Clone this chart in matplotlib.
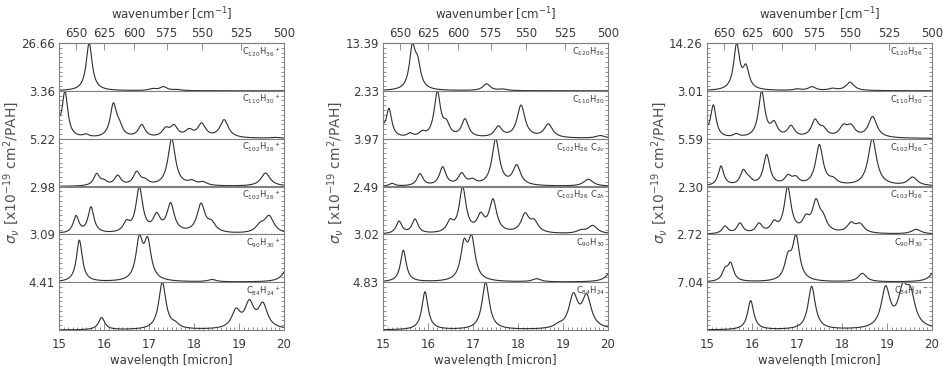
import numpy as np
import matplotlib
matplotlib.use("Agg")
import matplotlib.pyplot as plt
from matplotlib.ticker import MultipleLocator, FixedLocator

plt.rcParams['font.family'] = ['DejaVu Sans']
plt.rcParams['mathtext.fontset'] = 'dejavusans'

# ---------------- data (band positions in micron, relative band strengths) -------------
# Panel 1: cations
cat_labels = [r'C$_{120}$H$_{36}$$^+$', r'C$_{110}$H$_{30}$$^+$', r'C$_{102}$H$_{26}$$^+$',
              r'C$_{102}$H$_{26}$$^+$', r'C$_{90}$H$_{30}$$^+$', r'C$_{84}$H$_{24}$$^+$']
cat_max = ['26.66', '3.36', '5.22', '2.98', '3.09', '4.41']
cat1_pos = [15.67, 17.08, 17.32, 17.62]
cat1_amp = [1.0, 0.035, 0.08, 0.02]
cat2_pos = [14.95, 15.133, 15.6, 16.207, 16.34, 16.837, 17.37, 17.556, 17.89, 18.17, 18.67, 19.8]
cat2_amp = [0.4, 1.0, 0.06, 0.72, 0.2, 0.28, 0.18, 0.24, 0.15, 0.3, 0.4, 0.02]
cat3_pos = [15.837, 16.0, 16.304, 16.726, 16.91, 17.504, 17.95, 18.2, 19.59]
cat3_amp = [0.25, 0.08, 0.21, 0.28, 0.09, 1.0, 0.08, 0.07, 0.28]
cat4_pos = [14.9, 15.378, 15.711, 16.5, 16.785, 17.17, 17.48, 18.156, 18.39, 19.47, 19.67]
cat4_amp = [0.06, 0.36, 0.55, 0.2, 0.95, 0.34, 0.6, 0.6, 0.18, 0.15, 0.35]
cat5_pos = [15.452, 16.785, 16.97, 18.4, 20.1]
cat5_amp = [0.92, 0.88, 0.82, 0.05, 0.35]
cat6_pos = [15.948, 17.296, 17.58, 18.933, 19.23, 19.53]
cat6_amp = [0.26, 1.0, 0.08, 0.37, 0.52, 0.5]

# Panel 2: neutrals
neu_labels = [r'C$_{120}$H$_{36}$', r'C$_{110}$H$_{30}$', r'C$_{102}$H$_{26}$ C$_{2v}$',
              r'C$_{102}$H$_{26}$ C$_{2h}$', r'C$_{90}$H$_{30}$', r'C$_{84}$H$_{24}$']
neu_max = ['13.39', '2.33', '3.97', '2.49', '3.02', '4.83']
neu1_pos = [15.652, 15.77, 17.30, 17.66]
neu1_amp = [0.9, 0.5, 0.15, 0.03]
neu2_pos = [14.95, 15.133, 15.6, 15.87, 16.207, 16.41, 16.822, 17.563, 18.067, 18.674, 19.83]
neu2_amp = [0.3, 0.62, 0.08, 0.1, 1.0, 0.25, 0.4, 0.24, 0.72, 0.3, 0.06]
neu3_pos = [15.2, 15.822, 16.326, 16.748, 16.99, 17.504, 17.97, 19.563]
neu3_amp = [0.06, 0.26, 0.4, 0.25, 0.1, 1.0, 0.42, 0.15]
neu4_pos = [15.356, 15.711, 16.49, 16.77, 17.17, 17.444, 18.156, 18.36, 19.4, 19.66]
neu4_amp = [0.26, 0.3, 0.22, 0.95, 0.33, 0.68, 0.38, 0.22, 0.06, 0.17]
neu5_pos = [15.452, 16.8, 16.97, 18.41, 20.1]
neu5_amp = [0.72, 0.78, 0.9, 0.07, 0.3]
neu6_pos = [15.933, 17.281, 18.9, 19.23, 19.526]
neu6_amp = [0.8, 1.0, 0.06, 0.68, 0.66]

# Panel 3: anions
ani_labels = [r'C$_{120}$H$_{36}$$^-$', r'C$_{110}$H$_{30}$$^-$', r'C$_{102}$H$_{26}$$^-$',
              r'C$_{102}$H$_{26}$$^-$', r'C$_{90}$H$_{30}$$^-$', r'C$_{84}$H$_{24}$$^-$']
ani_max = ['14.26', '3.01', '5.59', '2.30', '2.72', '7.04']
ani1_pos = [15.659, 15.867, 17.0, 17.33, 17.79, 18.178]
ani1_amp = [0.97, 0.45, 0.03, 0.08, 0.04, 0.18]
ani2_pos = [14.95, 15.141, 15.65, 16.215, 16.49, 16.867, 17.4, 17.58, 18.03, 18.2, 18.68]
ani2_amp = [0.2, 0.7, 0.07, 1.0, 0.28, 0.24, 0.36, 0.16, 0.22, 0.22, 0.46]
ani3_pos = [15.311, 15.807, 15.93, 16.326, 16.8, 16.97, 17.496, 17.8, 18.674, 19.57]
ani3_amp = [0.42, 0.3, 0.1, 0.65, 0.18, 0.14, 0.86, 0.1, 1.0, 0.18]
ani4_pos = [15.4, 15.733, 16.156, 16.49, 16.793, 17.2, 17.422, 17.58, 18.2, 18.4, 19.65]
ani4_amp = [0.16, 0.22, 0.2, 0.2, 0.97, 0.26, 0.62, 0.25, 0.2, 0.18, 0.1]
ani5_pos = [15.4, 15.526, 16.8, 16.978, 18.452, 20.1]
ani5_amp = [0.22, 0.36, 0.45, 0.92, 0.18, 0.3]
ani6_pos = [15.97, 17.326, 18.97, 19.348, 19.52]
ani6_amp = [0.66, 0.98, 0.9, 0.75, 0.7]

band_fwhm_cm = 6.5      # Lorentzian band width (cm^-1)

wn_ticks = [650, 625, 600, 575, 550, 525, 500]
wl_ticks = [15, 16, 17, 18, 19, 20]

panels = [
    (cat_labels, cat_max, [(cat1_pos, cat1_amp), (cat2_pos, cat2_amp), (cat3_pos, cat3_amp),
                           (cat4_pos, cat4_amp), (cat5_pos, cat5_amp), (cat6_pos, cat6_amp)]),
    (neu_labels, neu_max, [(neu1_pos, neu1_amp), (neu2_pos, neu2_amp), (neu3_pos, neu3_amp),
                           (neu4_pos, neu4_amp), (neu5_pos, neu5_amp), (neu6_pos, neu6_amp)]),
    (ani_labels, ani_max, [(ani1_pos, ani1_amp), (ani2_pos, ani2_amp), (ani3_pos, ani3_amp),
                           (ani4_pos, ani4_amp), (ani5_pos, ani5_amp), (ani6_pos, ani6_amp)]),
]


def spectrum(lam, pos, amp, ymax):
    nu = 1e4 / lam
    g = band_fwhm_cm / 2.0
    s = np.zeros_like(lam)
    for p, a in zip(pos, amp):
        s += a * g**2 / ((nu - 1e4 / p)**2 + g**2)
    vis = (lam >= 15) & (lam <= 20)
    return s / s[vis].max() * ymax


W, H = 943, 366
fig = plt.figure(figsize=(W / 100, H / 100), dpi=100)
lam = np.linspace(14.7, 20.4, 3000)

txt = '#3a3a3a'
spc = '#808080'
fs = 8.5
lefts = [59, 383, 707]
pw = 225
top, bot = 43, 330
sh = (bot - top) / 6.0

for pi, (labels, maxes, spectra) in enumerate(panels):
    x0 = lefts[pi]
    for k in range(6):
        ymax = float(maxes[k])
        ax = fig.add_axes([x0 / W, 1 - (top + (k + 1) * sh) / H, pw / W, sh / H])
        pos, amp = spectra[k]
        ax.plot(lam, spectrum(lam, pos, amp, ymax), color='#2e2e2e', lw=0.8)
        ax.set_xlim(15, 20)
        ax.set_ylim(0, ymax)
        for sp in ax.spines.values():
            sp.set_color(spc)
            sp.set_linewidth(0.8)
        ax.yaxis.set_major_locator(FixedLocator([ymax]))
        ax.set_yticklabels([maxes[k]])
        ax.yaxis.set_minor_locator(MultipleLocator(ymax / 10.0))
        ax.tick_params(axis='y', which='major', length=0, pad=3, labelsize=fs,
                       labelcolor=txt, left=True, right=False)
        ax.tick_params(axis='y', which='minor', direction='in', length=2.5, width=0.6,
                       color=spc, left=True, right=True)
        ax.text(0.987, 0.95, labels[k], transform=ax.transAxes, ha='right', va='top',
                fontsize=6, color=txt)
        if k < 5:
            ax.tick_params(axis='x', which='both', bottom=False, top=False, labelbottom=False)
        else:
            ax.set_xticks(wl_ticks)
            ax.xaxis.set_minor_locator(MultipleLocator(0.1))
            ax.tick_params(axis='x', which='major', direction='in', length=5, width=0.6,
                           color=spc, pad=6, labelsize=fs, labelcolor=txt, top=False)
            ax.tick_params(axis='x', which='minor', direction='in', length=2.5, width=0.6,
                           color=spc, top=False)
            ax.set_xlabel('wavelength [micron]', fontsize=fs, color=txt, labelpad=2)
        if k == 0:
            ax.tick_params(axis='x', which='both', top=False)
            sec = ax.secondary_xaxis('top', functions=(lambda x: 1e4 / x, lambda x: 1e4 / x))
            sec.set_xticks(wn_ticks)
            sec.spines['top'].set_color(spc)
            sec.tick_params(axis='x', direction='in', length=5, width=0.6, color=spc,
                            pad=2, labelsize=fs, labelcolor=txt)
            sec.set_xlabel('wavenumber [cm$^{-1}$]', fontsize=fs, color=txt, labelpad=6)
    fig.text((x0 - 47) / W, 1 - 173 / H, r'$\sigma_\nu$ [x10$^{-19}$ cm$^2$/PAH]',
             rotation=90, ha='center', va='center', fontsize=10, color='#505050')

fig.savefig('out.png', dpi=100)
